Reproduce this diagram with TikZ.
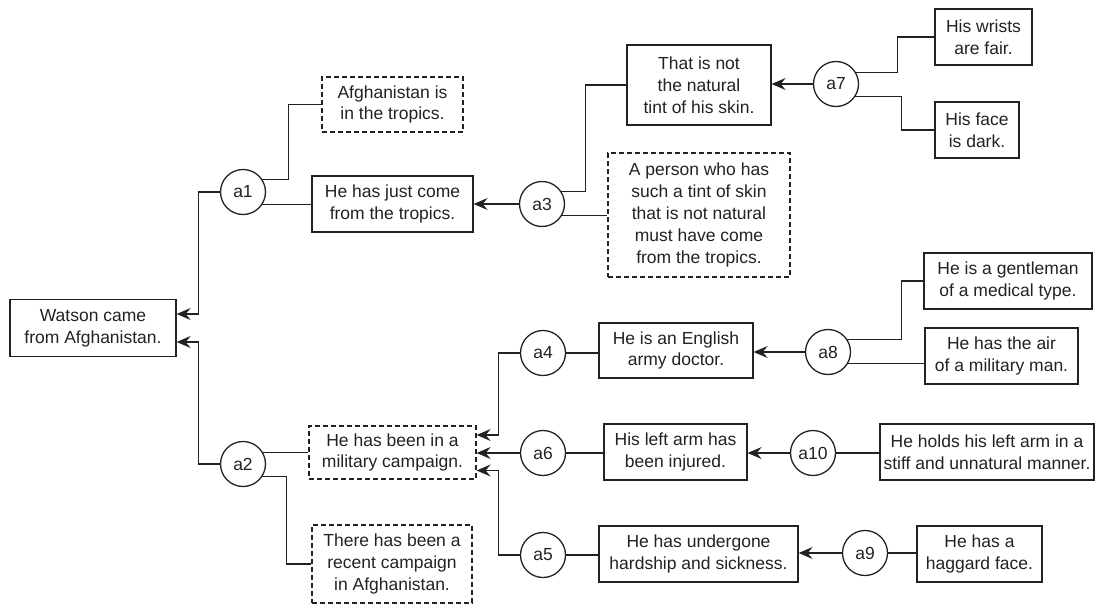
\documentclass[tikz,border=0pt]{standalone}
\usepackage{fontspec}
\setmainfont{Liberation Sans}
\usetikzlibrary{arrows.meta,calc}
\definecolor{ink}{HTML}{222222}
\tikzset{
  base/.style={draw=ink, line width=1.3pt, inner sep=0pt, align=center, text=ink,
    font=\fontsize{17.5}{21.8}\selectfont},
  stmt/.style={base, rectangle},
  hidden/.style={stmt, dash pattern=on 5pt off 3pt},
  arg/.style={base, circle, minimum size=45pt},
  conn/.style={draw=ink, line width=1.3pt},
  arr/.style={conn, -{Stealth[length=14pt,width=12pt,inset=5pt]}}
}
\begin{document}
\begin{tikzpicture}[x=1pt,y=-1pt]
\useasboundingbox (0,0) rectangle (1096,605);
% statements
\node[stmt, minimum width=166pt, minimum height=57pt] (watson) at (93,328) {Watson came\\from Afghanistan.};
\node[hidden, minimum width=141pt, minimum height=55pt] (afg) at (392.5,104.5) {Afghanistan is\\in the tropics.};
\node[stmt, minimum width=161pt, minimum height=56pt] (tropics) at (392.5,204) {He has just come\\from the tropics.};
\node[stmt, minimum width=144pt, minimum height=80pt] (tint) at (699,85) {That is not\\the natural\\tint of his skin.};
\node[hidden, minimum width=182pt, minimum height=124pt] (person) at (699,215) {A person who has\\such a tint of skin\\that is not natural\\must have come\\from the tropics.};
\node[stmt, minimum width=97pt, minimum height=56pt] (wrists) at (983.5,37) {His wrists\\are fair.};
\node[stmt, minimum width=84pt, minimum height=56pt] (face) at (977,130) {His face\\is dark.};
\node[hidden, minimum width=167pt, minimum height=53pt] (military) at (392.5,452.5) {He has been in a\\military campaign.};
\node[hidden, minimum width=160pt, minimum height=78pt] (recent) at (392,564) {There has been a\\recent campaign\\in Afghanistan.};
\node[stmt, minimum width=154pt, minimum height=55pt] (english) at (676,350.5) {He is an English\\army doctor.};
\node[stmt, minimum width=168pt, minimum height=56pt] (gentleman) at (1008,281) {He is a gentleman\\of a medical type.};
\node[stmt, minimum width=153pt, minimum height=56pt] (air) at (1001.5,356) {He has the air\\of a military man.};
\node[stmt, minimum width=143pt, minimum height=56pt] (leftarm) at (675.5,452) {His left arm has\\been injured.};
\node[stmt, minimum width=214pt, minimum height=56pt] (holds) at (987,452) {He holds his left arm in a\\stiff and unnatural manner.};
\node[stmt, minimum width=199pt, minimum height=56pt] (undergone) at (698.5,554) {He has undergone\\hardship and sickness.};
\node[stmt, minimum width=125pt, minimum height=56pt] (haggard) at (979.5,554) {He has a\\haggard face.};
% arguments
\node[arg] (a1) at (243,192) {a1};
\node[arg] (a2) at (243,464) {a2};
\node[arg] (a3) at (542,204) {a3};
\node[arg] (a4) at (543,353) {a4};
\node[arg] (a5) at (543,555) {a5};
\node[arg] (a6) at (543,453) {a6};
\node[arg] (a7) at (836,84) {a7};
\node[arg] (a8) at (828,352) {a8};
\node[arg] (a9) at (865,553) {a9};
\node[arg] (a10) at (813,453) {a10};
% a1
\draw[arr] (a1.west) -| ($(watson.east)+(22,-14)$) -- ($(watson.east)+(0,-14)$);
\draw[conn] (a1.33) -| ($(afg.west)+(-33,0)$) -- (afg.west);
\draw[conn] (a1.-33) -- (a1.-33 -| tropics.west);
% a2
\draw[arr] (a2.west) -| ($(watson.east)+(22,14)$) -- ($(watson.east)+(0,14)$);
\draw[conn] (a2.30) -- (a2.30 -| military.west);
\draw[conn] (a2.-33) -| ($(recent.west)+(-25,0)$) -- (recent.west);
% a3
\draw[arr] (a3.west) -- (a3.west -| tropics.east);
\draw[conn] (a3.33) -| ($(tint.west)+(-41,0)$) -- (tint.west);
\draw[conn] (a3.-30) -- (a3.-30 -| person.west);
% a7
\draw[arr] (a7.west) -- (a7.west -| tint.east);
\draw[conn] (a7.30) -| ($(wrists.west)+(-37,0)$) -- (wrists.west);
\draw[conn] (a7.-33) -| ($(face.west)+(-33,0)$) -- (face.west);
% a4, a6, a5
\draw[arr] (a4.west) -| ($(military.east)+(22,-17.5)$) -- ($(military.east)+(0,-17.5)$);
\draw[arr] (a6.west) -- (a6.west -| military.east);
\draw[arr] (a5.west) -| ($(military.east)+(22,18)$) -- ($(military.east)+(0,18)$);
\draw[conn] (a4.east) -- (a4.east -| english.west);
\draw[conn] (a6.east) -- (a6.east -| leftarm.west);
\draw[conn] (a5.east) -- (a5.east -| undergone.west);
% a8
\draw[arr] (a8.west) -- (a8.west -| english.east);
\draw[conn] (a8.33) -| ($(gentleman.west)+(-22,0)$) -- (gentleman.west);
\draw[conn] (a8.-30) -- (a8.-30 -| air.west);
% a10
\draw[arr] (a10.west) -- (a10.west -| leftarm.east);
\draw[conn] (a10.east) -- (a10.east -| holds.west);
% a9
\draw[arr] (a9.west) -- (a9.west -| undergone.east);
\draw[conn] (a9.east) -- (a9.east -| haggard.west);
\end{tikzpicture}
\end{document}
